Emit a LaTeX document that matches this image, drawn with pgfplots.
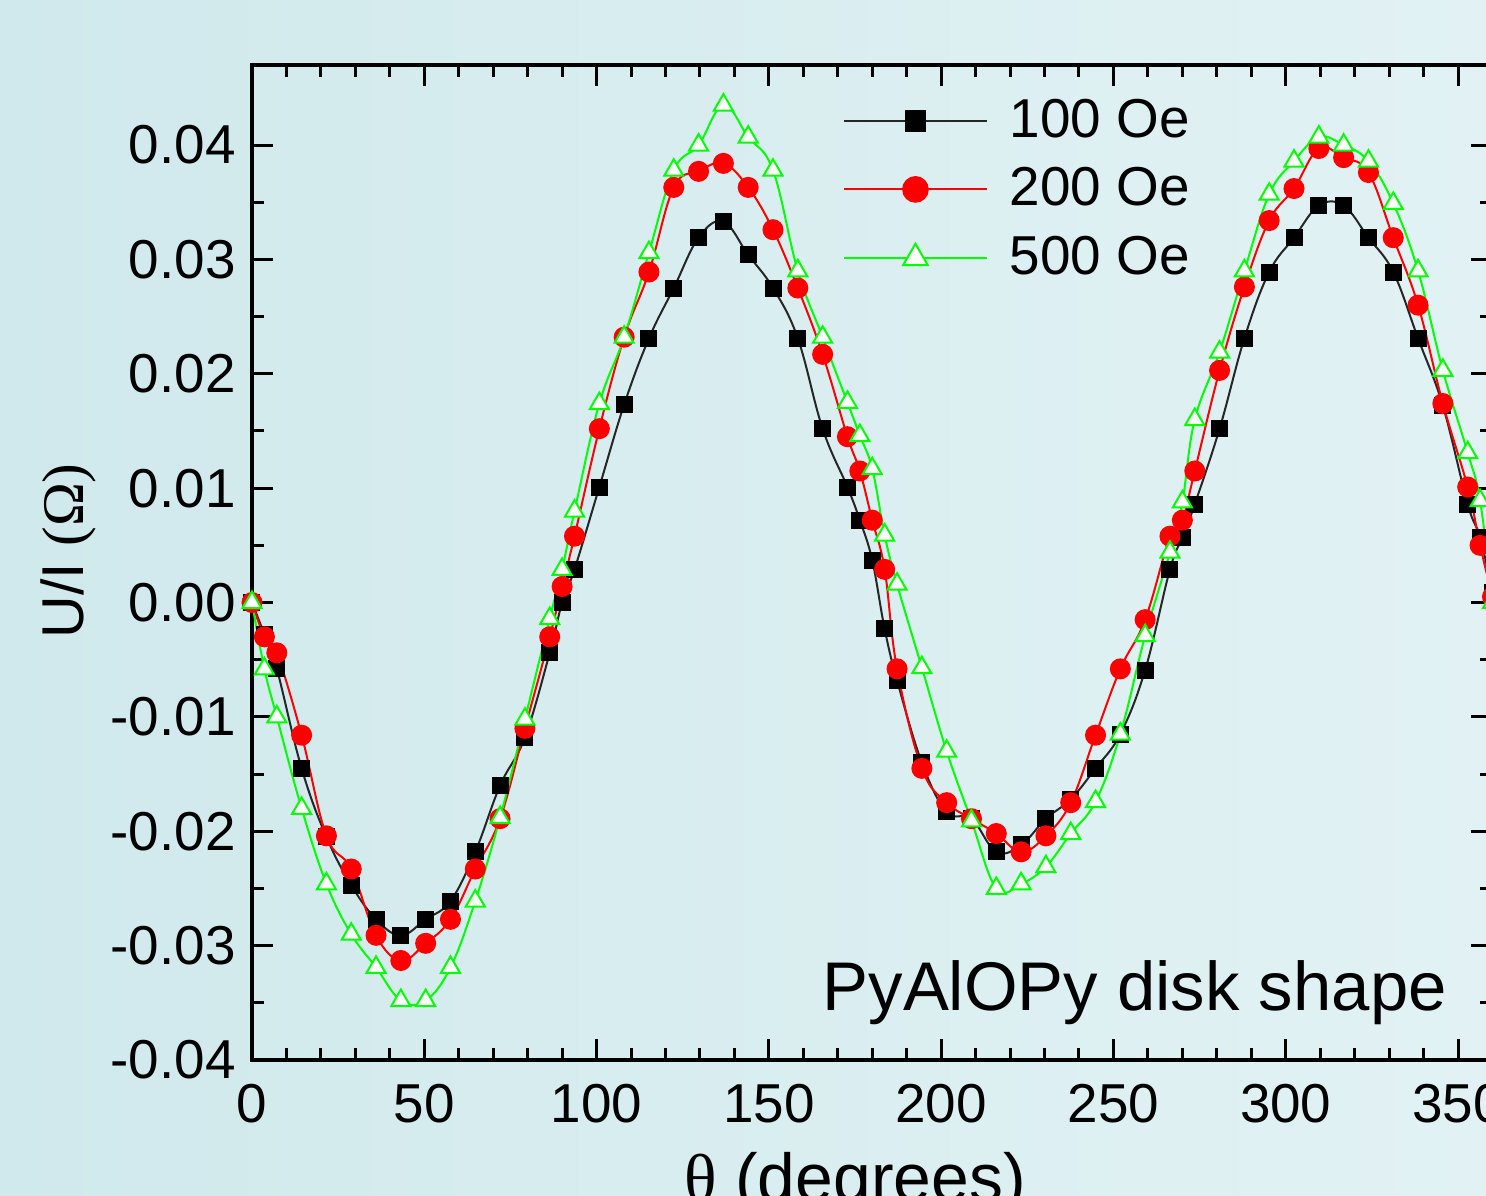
\documentclass[border=0pt]{standalone}
\usepackage{fontspec}
\setmainfont{Liberation Sans}
\newfontfamily\grk{Liberation Serif}
\usepackage{pgfplots}
\usepackage{pgfplotstable}
\pgfplotsset{compat=1.18}

\definecolor{bgleft}{RGB}{208,233,236}
\definecolor{bgright}{RGB}{226,242,244}
\definecolor{ogreen}{RGB}{0,255,0}
\definecolor{ored}{RGB}{255,0,0}

% U/I against angle, three fields
\pgfplotstableread{
theta  u100     u200     u500
0      0.0000   0.0000   0.0000
3.6   -0.0028  -0.0030  -0.0058
7.2   -0.0058  -0.0044  -0.0100
14.4  -0.0145  -0.0116  -0.0180
21.6  -0.0205  -0.0204  -0.0246
28.8  -0.0247  -0.0233  -0.0290
36    -0.0277  -0.0291  -0.0319
43.2  -0.0291  -0.0313  -0.0348
50.4  -0.0277  -0.0298  -0.0348
57.6  -0.0261  -0.0277  -0.0319
64.8  -0.0218  -0.0233  -0.0261
72    -0.0160  -0.0189  -0.0188
79.2  -0.0118  -0.0110  -0.0102
86.4  -0.0044  -0.0030  -0.0014
90     0.0000   0.0014   0.0029
93.6   0.0029   0.0058   0.0080
100.8  0.0101   0.0152   0.0174
108    0.0173   0.0232   0.0232
115.2  0.0231   0.0289   0.0306
122.4  0.0275   0.0363   0.0378
129.6  0.0319   0.0377   0.0400
136.8  0.0333   0.0384   0.0435
144    0.0304   0.0363   0.0407
151.2  0.0275   0.0326   0.0378
158.4  0.0231   0.0275   0.0290
165.6  0.0152   0.0217   0.0232
172.8  0.0101   0.0145   0.0175
176.4  0.0072   0.0115   0.0146
180    0.0037   0.0072   0.0117
183.6 -0.0023   0.0029   0.0059
187.2 -0.0068  -0.0058   0.0016
194.4 -0.0140  -0.0145  -0.0057
201.6 -0.0183  -0.0175  -0.0130
208.8 -0.0189  -0.0189  -0.0191
216   -0.0218  -0.0202  -0.0250
223.2 -0.0212  -0.0218  -0.0246
230.4 -0.0189  -0.0204  -0.0231
237.6 -0.0172  -0.0175  -0.0202
244.8 -0.0145  -0.0116  -0.0174
252   -0.0115  -0.0058  -0.0115
259.2 -0.0059  -0.0015  -0.0029
266.4  0.0029   0.0058   0.0044
270    0.0057   0.0072   0.0088
273.6  0.0086   0.0115   0.0160
280.8  0.0152   0.0203   0.0219
288    0.0231   0.0276   0.0290
295.2  0.0289   0.0334   0.0357
302.4  0.0319   0.0362   0.0386
309.6  0.0347   0.0397   0.0407
316.8  0.0347   0.0389   0.0400
324    0.0319   0.0376   0.0386
331.2  0.0289   0.0319   0.0349
338.4  0.0231   0.0260   0.0290
345.6  0.0172   0.0174   0.0203
352.8  0.0086   0.0101   0.0131
356.4  0.0057   0.0050   0.0089
360    0.0009   0.0005   0.0000
}\datatable

\begin{document}
\begin{tikzpicture}
\shade[left color=bgleft, right color=bgright] (-25.2mm,-13.6mm) rectangle (123.4mm,106mm);
\begin{axis}[
  name=ax, at={(0,0)}, anchor=south west,
  scale only axis, width=124.05mm, height=99.5mm,
  xmin=0, xmax=360, ymin=-0.04, ymax=0.047,
  xtick={0,50,...,350}, minor x tick num=4,
  ytick={-0.04,-0.03,-0.02,-0.01,0,0.01,0.02,0.03,0.04},
  yticklabels={-0.04,-0.03,-0.02,-0.01,0.00,0.01,0.02,0.03,0.04},
  minor y tick num=1,
  scaled ticks=false,
  tick align=inside,
  major tick length=2.1mm, minor tick length=1.2mm,
  every tick/.style={black, line width=0.3mm},
  axis line style={line width=0.4mm},
  /pgf/number format/assume math mode=true,
  tick label style={font=\fontsize{15.6}{18}\selectfont},
  xticklabel style={yshift=-1.2mm},
  yticklabel style={xshift=-0.4mm},
  xlabel={{\grk θ} (degrees)},
  xlabel style={font=\fontsize{19.3}{23}\selectfont, at={(axis description cs:0.486,-0.142)}, anchor=base},
  ylabel={U/I {\grk (Ω)}},
  ylabel style={font=\fontsize{16.8}{20}\selectfont, at={(axis description cs:-0.1362,0.5116)}, anchor=base, rotate=0},
  legend cell align=left,
  legend style={draw=none, fill=none, inner sep=0pt, outer sep=0pt,
    at={(axis description cs:0.4764,0.9729)}, anchor=north west,
    font=\fontsize{15.6}{18}\selectfont, row sep=1.1mm,
    /tikz/every odd column/.append style={column sep=1.5mm}},
  legend image code/.code={\draw[mark repeat=2,mark phase=2,#1,every mark/.append style={scale=1.3}]
    plot coordinates {(0mm,0mm) (7.15mm,0mm) (14.3mm,0mm)};},
]
\addplot[color=black!85, line width=0.2mm, smooth, tension=0.65,
  mark=square*, mark size=0.75mm, mark options={fill=black, draw=black, line width=0.2mm}]
  table[x=theta, y=u100] {\datatable};
\addlegendentry{100 Oe}
\addplot[color=ored, line width=0.2mm, smooth, tension=0.65,
  mark=*, mark size=0.95mm, mark options={fill=ored, draw=ored, line width=0.2mm}]
  table[x=theta, y=u200] {\datatable};
\addlegendentry{200 Oe}
\addplot[color=ogreen, line width=0.2mm, smooth, tension=0.65,
  mark=triangle*, mark size=1.1mm, mark options={fill=white, draw=ogreen, line width=0.2mm}]
  table[x=theta, y=u500] {\datatable};
\addlegendentry{500 Oe}
\node[anchor=base west, font=\fontsize{19.6}{23}\selectfont, inner sep=0pt] at (axis cs:165.4,-0.0357) {PyAlOPy disk shape};
\end{axis}
\pgfresetboundingbox
\path[use as bounding box] (-25.2mm,-13.6mm) rectangle (123.4mm,106mm);
\end{tikzpicture}
\end{document}
